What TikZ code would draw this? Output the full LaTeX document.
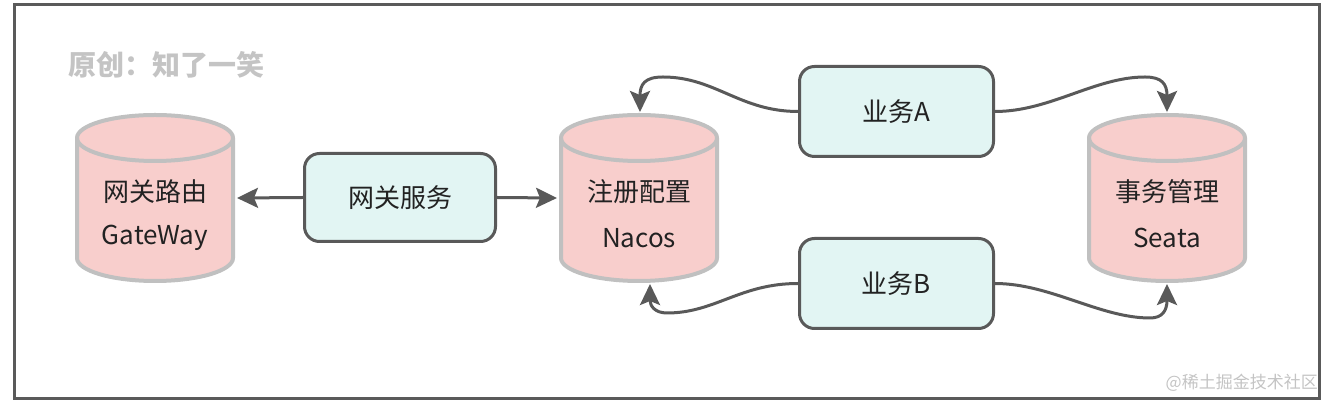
\documentclass[tikz,border=0pt]{standalone}
\usepackage{fontspec}
\setmainfont{Noto Sans CJK SC}
\usetikzlibrary{arrows.meta,positioning}
\definecolor{frame}{HTML}{5A5A5A}
\definecolor{edge}{HTML}{595959}
\definecolor{cylfill}{HTML}{F8CECC}
\definecolor{cylline}{HTML}{C0C0C0}
\definecolor{boxfill}{HTML}{E2F5F3}
\definecolor{wm}{HTML}{C4C4C4}
\definecolor{txt}{HTML}{222222}
\tikzset{
  x=1pt,y=1pt,
  svcbox/.style={draw=edge,line width=3pt,fill=boxfill,rounded corners=15pt,
    minimum width=191pt,minimum height=88pt,inner sep=0pt,
    font=\fontsize{26}{30}\selectfont,text=txt},
  cylarea/.style={minimum width=156pt,minimum height=166pt,inner sep=0pt},
  cyltext/.style={font=\fontsize{26}{30}\selectfont,text=txt,inner sep=0pt},
  conn/.style={draw=edge,line width=3pt,-{Stealth[length=21pt,width=20pt,inset=4pt]}},
}
\newcommand{\mycyl}[4]{%
  % #1 name, #2 center x, #3 line1, #4 line2
  \node[cylarea] (#1) at (#2,208) {};
  \path[draw=cylline,line width=4pt,fill=cylfill]
    (#2-78,268) -- (#2-78,148) arc[start angle=180,end angle=360,x radius=78,y radius=23]
    -- (#2+78,268) arc[start angle=0,end angle=180,x radius=78,y radius=23] -- cycle;
  \draw[cylline,line width=4pt] (#2-78,268) arc[start angle=180,end angle=360,x radius=78,y radius=23];
  \node[cyltext] (#1-l1) at (#2,214) {#3};
  \node[cyltext] (#1-l2) at (#2,168) {#4};
}
\begin{document}
\begin{tikzpicture}
\useasboundingbox (0,0) rectangle (1335,406);
\draw[frame,line width=3pt] (14,7) rectangle (1319,401);
\node[anchor=west,text=wm,font=\fontsize{28}{32}\selectfont\bfseries,inner sep=0pt] (wm1) at (68,341) {原创：知了一笑};
\node[anchor=east,text=wm,font=\fontsize{17}{20}\selectfont,inner sep=0pt] (wm2) at (1318,23) {@稀土掘金技术社区};

\mycyl{gw}{155}{网关路由}{GateWay}
\mycyl{nacos}{639}{注册配置}{Nacos}
\mycyl{seata}{1167}{事务管理}{Seata}

\node[svcbox] (gwsvc) at (400,208.5) {网关服务};
\node[svcbox,minimum width=194pt,minimum height=90pt] (bizA) at (896.5,294.5) {业务A};
\node[svcbox,minimum width=194pt,minimum height=90pt] (bizB) at (896.5,122.5) {业务B};

\coordinate (gwR) at (237,208);
\coordinate (nacosL) at (557,208);
\coordinate (nacosT) at (640,294);
\coordinate (seataT) at (1167,294);
\coordinate (nacosB) at (650,122);
\coordinate (seataB) at (1167,122);

\draw[conn] (gwsvc.west) -- (gwR);
\draw[conn] (gwsvc.east) -- (nacosL);
\draw[conn] (bizA.west) .. controls (740,294.5) and (715,329) .. (663,329)
  .. controls (645,329) and (640,322) .. (nacosT);
\draw[conn] (bizA.east) .. controls (1050,294.5) and (1095,329) .. (1145,329)
  .. controls (1162,329) and (1167,322) .. (seataT);
\draw[conn] (bizB.west) .. controls (740,122.5) and (715,93) .. (667,93)
  .. controls (655,93) and (650,100) .. (nacosB);
\draw[conn] (bizB.east) .. controls (1050,122.5) and (1100,88) .. (1150,88)
  .. controls (1162,88) and (1167,95) .. (seataB);
\end{tikzpicture}
\end{document}
